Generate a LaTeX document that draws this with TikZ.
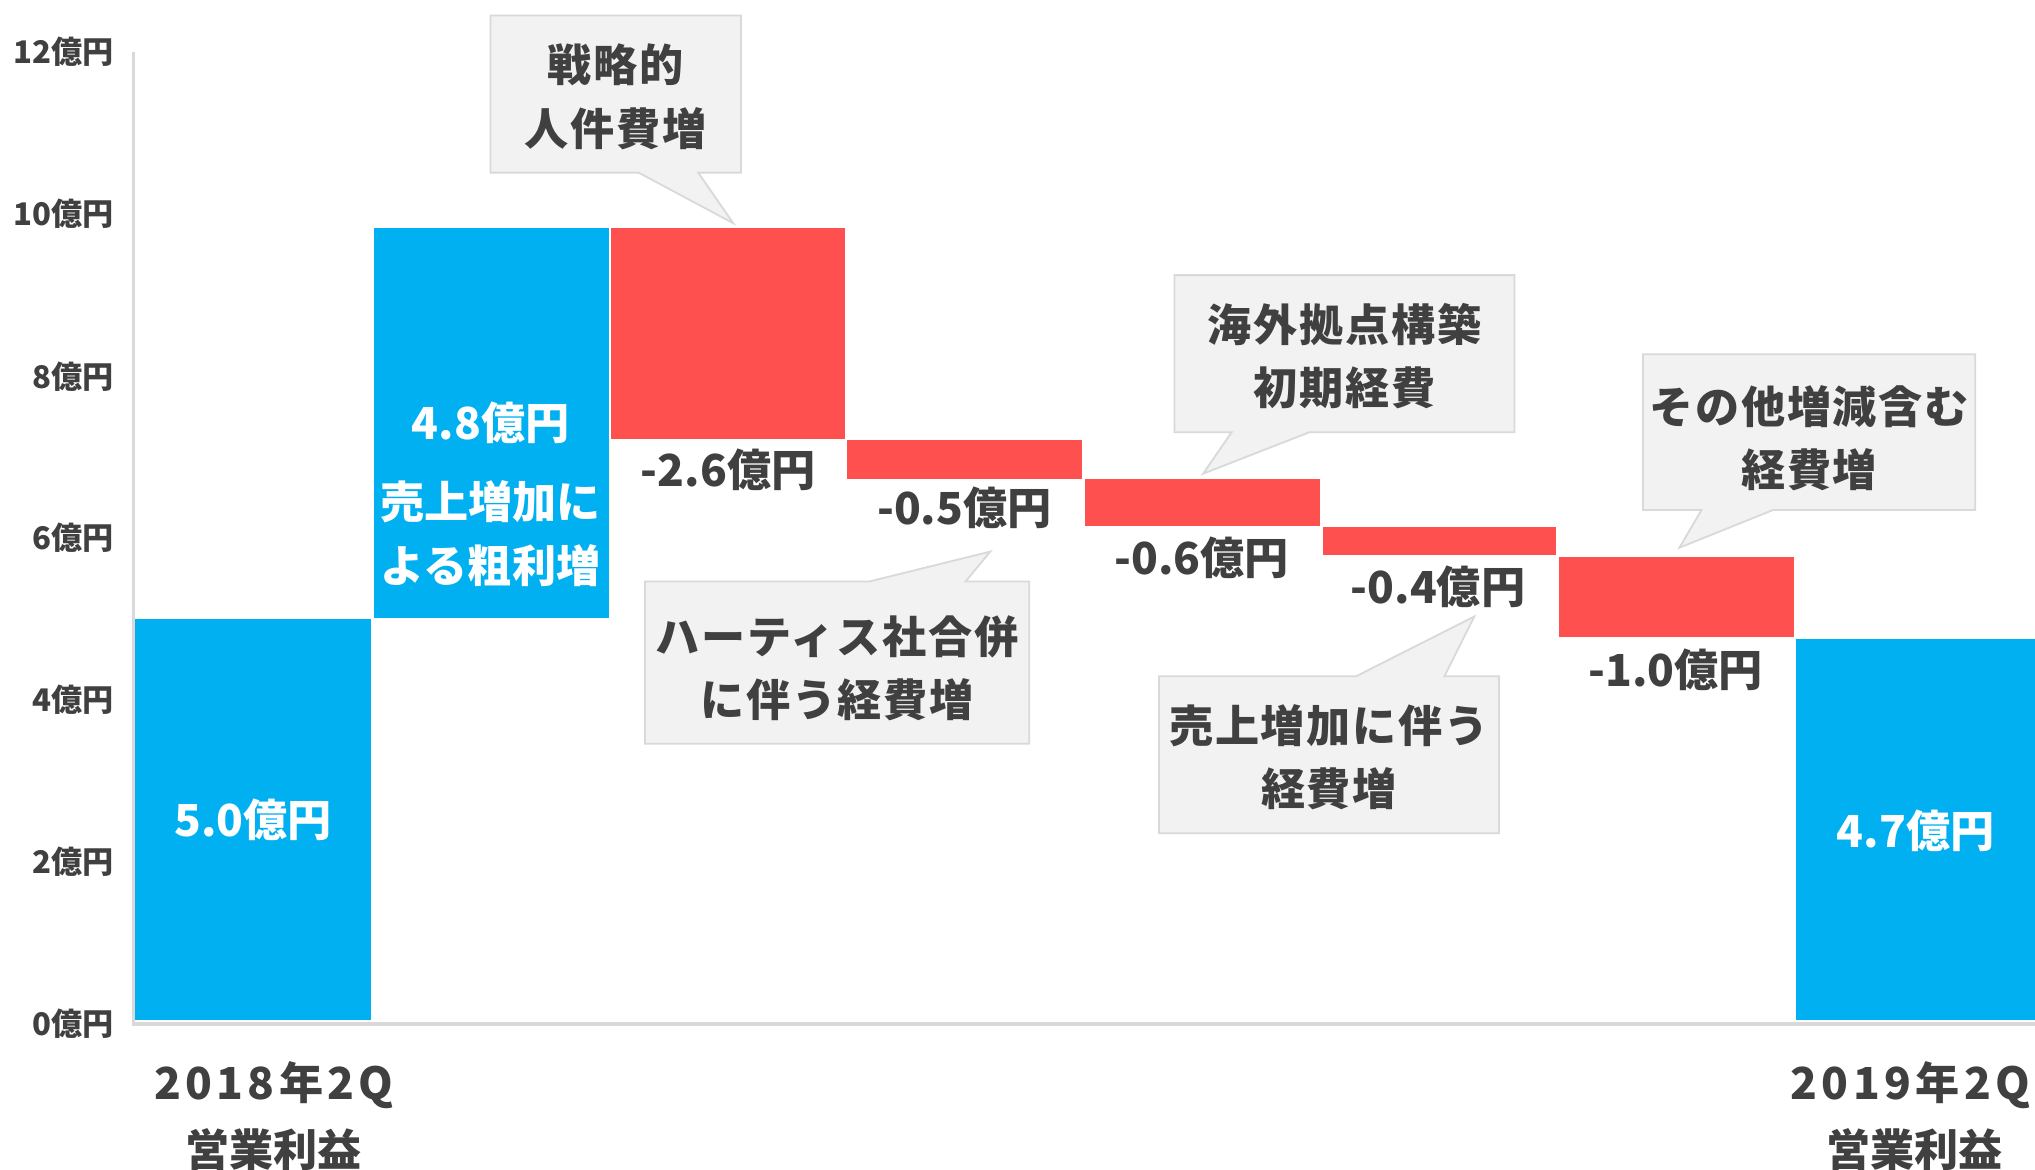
\documentclass[tikz,border=0pt]{standalone}
\usepackage{fontspec}
\setmainfont{Noto Sans CJK JP}
\definecolor{barblue}{HTML}{00B0F0}
\definecolor{barred}{HTML}{FF5050}
\definecolor{txt}{HTML}{404040}
\definecolor{callfill}{HTML}{F2F2F2}
\definecolor{callline}{HTML}{D9D9D9}
\definecolor{axisline}{HTML}{D9D9D9}
\begin{document}
\begin{tikzpicture}[x=0.5pt,y=-0.5pt,
  every node/.style={inner sep=0pt},
  ylab/.style={anchor=east, text=txt, font=\fontsize{12}{14}\selectfont\bfseries},
  barlab/.style={text=txt, font=\fontsize{17}{20}\selectfont\bfseries},
  inlab/.style={text=white, align=center, font=\fontsize{17}{24.5}\selectfont\bfseries},
  calltext/.style={text=txt, align=center, font=\fontsize{17}{24.5}\selectfont\bfseries\addfontfeatures{LetterSpace=4}},
  callout/.style={fill=callfill, draw=callline, line width=0.7pt, line join=miter},
  catlab/.style={text=txt, font=\fontsize{17}{20}\selectfont\bfseries\addfontfeatures{LetterSpace=10}},
  catlabb/.style={text=txt, font=\fontsize{17}{20}\selectfont\bfseries},
  bluebar/.style={fill=barblue},
  redbar/.style={fill=barred},
  axis/.style={draw=axisline, line width=1.2pt}
]
\useasboundingbox[fill=white] (0,0) rectangle (1568,901);

% axes
\coordinate (ytop) at (103,40);
\coordinate (orig) at (103,789);
\coordinate (xend) at (1568,789);
\draw[axis] (ytop) -- (orig) -- (xend);

% y labels
\node[ylab] (y12) at (88,40) {12億円};
\node[ylab] (y10) at (88,165) {10億円};
\node[ylab] (y8)  at (88,290) {8億円};
\node[ylab] (y6)  at (88,414) {6億円};
\node[ylab] (y4)  at (88,539) {4億円};
\node[ylab] (y2)  at (88,664) {2億円};
\node[ylab] (y0)  at (88,789) {0億円};

% bars
\path[bluebar] (104,477) rectangle (286,786);
\path[bluebar] (288,176) rectangle (469,476);
\path[redbar]  (471,176) rectangle (651,338);
\path[redbar]  (653,339) rectangle (834,369);
\path[redbar]  (836,369) rectangle (1017,405);
\path[redbar]  (1019,406) rectangle (1199,428);
\path[redbar]  (1201,429) rectangle (1382,491);
\path[bluebar] (1384,492) rectangle (1568,786);

% labels on / under bars
\node[inlab] (v1) at (195,632) {5.0億円};
\node[inlab] (v2) at (378,326) {4.8億円};
\node[inlab] (v2t) at (378,411) {売上増加に\\よる粗利増};
\node[barlab] (v3) at (561,362) {-2.6億円};
\node[barlab] (v4) at (743,391) {-0.5億円};
\node[barlab] (v5) at (926,430) {-0.6億円};
\node[barlab] (v6) at (1108,452) {-0.4億円};
\node[barlab] (v7) at (1291,516) {-1.0億円};
\node[inlab] (v8) at (1476,640) {4.7億円};

% callouts
\path[callout] (378,12) -- (571,12) -- (571,133) -- (538,133) -- (565,172) -- (492,133) -- (378,133) -- cycle;
\node[calltext] (cA) at (474.5,74.5) {戦略的\\人件費増};

\path[callout] (497,448) -- (670,448) -- (763,425) -- (744,448) -- (793,448) -- (793,573) -- (497,573) -- cycle;
\node[calltext] (cB) at (645,515) {ハーティス社合併\\に伴う経費増};

\path[callout] (905,212) -- (1167,212) -- (1167,333) -- (1009,333) -- (927,365) -- (949,333) -- (905,333) -- cycle;
\node[calltext] (cC) at (1036,274.5) {海外拠点構築\\初期経費};

\path[callout] (893,521) -- (1045,521) -- (1136,475) -- (1113,521) -- (1155,521) -- (1155,642) -- (893,642) -- cycle;
\node[calltext] (cD) at (1024,583.5) {売上増加に伴う\\経費増};

\path[callout] (1266,273) -- (1522,273) -- (1522,393) -- (1366,393) -- (1294,422) -- (1311,393) -- (1266,393) -- cycle;
\node[calltext] (cE) at (1394,337.5) {その他増減含む\\経費増};

% category labels
\node[catlab] (c1a) at (211,836) {2018年2Q};
\node[catlabb] (c1b) at (211,886) {営業利益};
\node[catlab] (c2a) at (1472,836) {2019年2Q};
\node[catlabb] (c2b) at (1475,886) {営業利益};
\end{tikzpicture}
\end{document}
